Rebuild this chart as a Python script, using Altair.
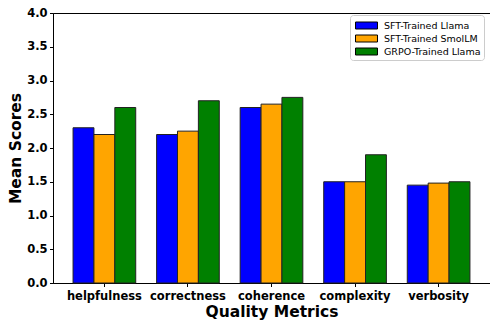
import altair as alt
import pandas as pd

metrics = ["helpfulness", "correctness", "coherence", "complexity", "verbosity"]
models = ["SFT-Trained Llama", "SFT-Trained SmolLM", "GRPO-Trained Llama"]
colors = ["#0000ff", "#ffa500", "#008000"]
sft_llama = [2.3, 2.2, 2.6, 1.5, 1.45]
sft_smollm = [2.2, 2.25, 2.65, 1.5, 1.48]
grpo_llama = [2.6, 2.7, 2.75, 1.9, 1.5]
y_ticks = [0.0, 0.5, 1.0, 1.5, 2.0, 2.5, 3.0, 3.5, 4.0]

rows = []
for m, vals in zip(models, [sft_llama, sft_smollm, grpo_llama]):
    for k, v in zip(metrics, vals):
        rows.append({"metric": k, "model": m, "score": v})
df = pd.DataFrame(rows)

FONT = "DejaVu Sans"
W = 437
H = 270

chart = alt.Chart(df).mark_bar(stroke="#222222", strokeWidth=1).encode(
    x=alt.X("metric:N", sort=metrics,
            scale=alt.Scale(paddingInner=0.25, paddingOuter=0.24),
            axis=alt.Axis(title="Quality Metrics", labelAngle=0,
                          labelFontSize=11.5, labelFontWeight="bold", labelFont=FONT,
                          labelColor="black", labelBaseline="alphabetic", labelPadding=12.5,
                          tickSize=3.5, tickColor="black", domainColor="black",
                          titleFontSize=15.5, titleFontWeight="bold", titleFont=FONT,
                          titleColor="black", titleBaseline="alphabetic",
                          titleX=W / 2, titleY=33.5, titleAlign="center")),
    xOffset=alt.XOffset("model:N", sort=models,
                        scale=alt.Scale(paddingInner=0, paddingOuter=0)),
    y=alt.Y("score:Q", scale=alt.Scale(domain=[0, 4], nice=False),
            axis=alt.Axis(title="Mean Scores", values=y_ticks, format=".1f", grid=False,
                          labelFontSize=11.5, labelFontWeight="bold", labelFont=FONT,
                          labelColor="black", labelPadding=2.5,
                          tickSize=3.5, tickColor="black", domainColor="black",
                          titleFontSize=15.5, titleFontWeight="bold", titleFont=FONT,
                          titleColor="black", titleAngle=-90, titleBaseline="alphabetic",
                          titleAlign="center", titleX=-33, titleY=H / 2)),
    color=alt.Color("model:N", sort=models,
                    scale=alt.Scale(domain=models, range=colors),
                    legend=alt.Legend(title=None, orient="none", legendX=297, legendY=2,
                                      labelFontSize=9.5, labelFont=FONT, labelColor="black",
                                      symbolType="M-1.57,-0.5h3.14v1h-3.14z", symbolSize=196,
                                      symbolStrokeColor="black", symbolStrokeWidth=1,
                                      symbolOpacity=1, symbolOffset=6,
                                      strokeColor="#cccccc", fillColor="white",
                                      padding=3, cornerRadius=3, rowPadding=0,
                                      labelOffset=10)),
).properties(
    width=W, height=H,
    autosize=alt.AutoSizeParams(type="none"),
    padding={"left": 45, "top": 5, "right": 0, "bottom": 38},
).configure_view(stroke="black", strokeWidth=1)

chart.save("out.html", embed_options={"renderer": "svg", "actions": False})
